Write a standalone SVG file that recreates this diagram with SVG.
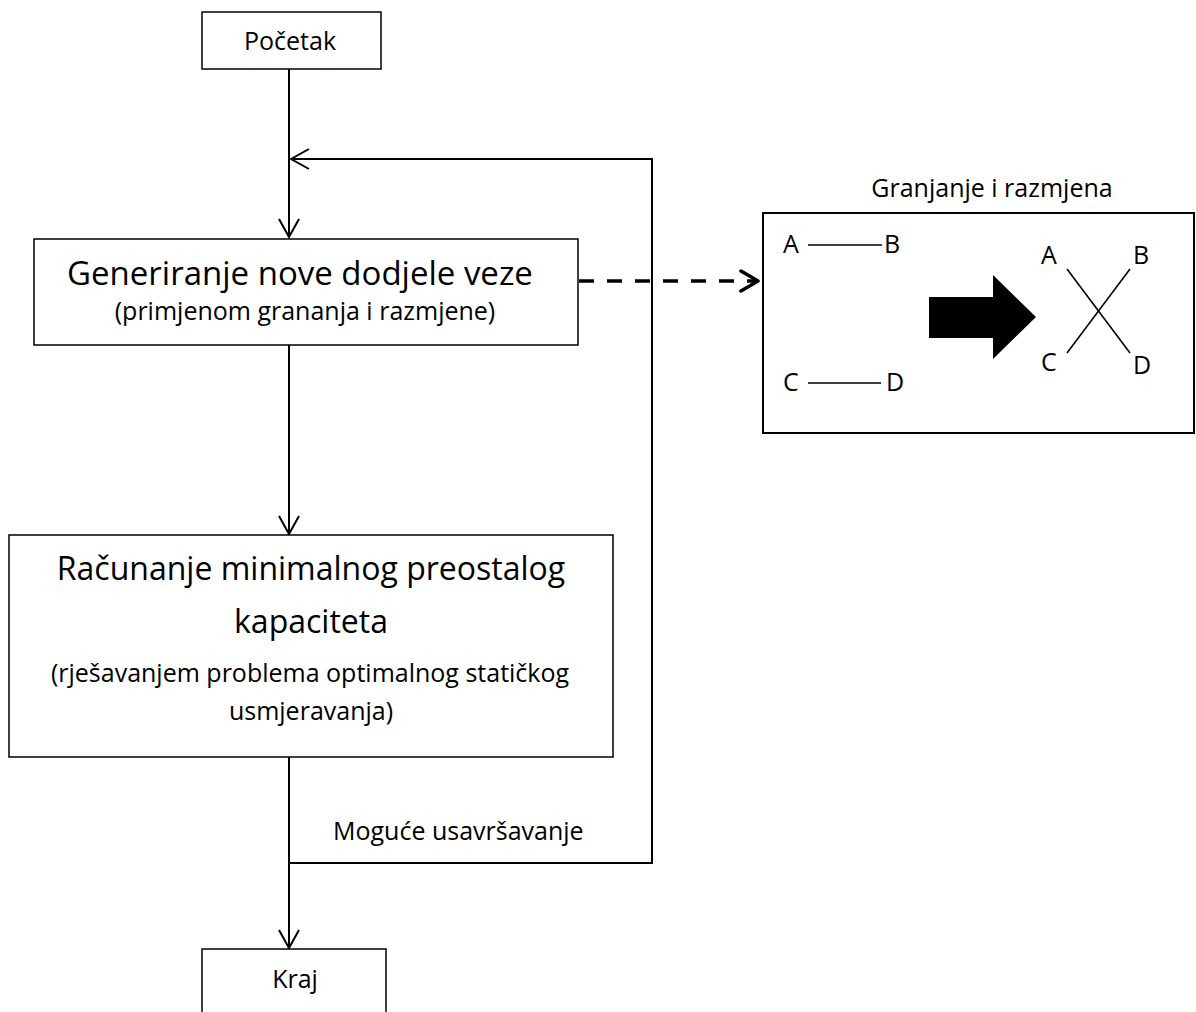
<svg xmlns="http://www.w3.org/2000/svg" width="1196" height="1012" viewBox="0 0 1196 1012">
<style>
  .box { fill: #fff; stroke: #000; stroke-width: 1.5; }
  .t { font-family: "Open Sans", "Noto Sans", "DejaVu Sans", sans-serif; fill: #000; }
  .s25 { font-size: 25px; }
  .s32 { font-size: 32px; }
  .s33 { font-size: 33px; }
  .mid { text-anchor: middle; }
  .conn { fill: none; stroke: #000; stroke-width: 2; }
  .thin { fill: none; stroke: #000; stroke-width: 1.5; }
</style>
<defs>
  <marker id="arr" viewBox="-20 -12 22 24" refX="0" refY="0" markerWidth="22" markerHeight="24" markerUnits="userSpaceOnUse" orient="auto">
    <path d="M-18,-10 L0,0 L-18,10" fill="none" stroke="#000" stroke-width="2"/>
  </marker>
  <marker id="arrThick" viewBox="-22 -14 24 28" refX="0" refY="0" markerWidth="24" markerHeight="28" markerUnits="userSpaceOnUse" orient="auto">
    <path d="M-17,-10 L0,0 L-17,10" fill="none" stroke="#000" stroke-width="3.5" stroke-linecap="round" stroke-linejoin="round"/>
  </marker>
</defs>

<g id="connectors">
  <path class="conn" d="M289,69 V237" marker-end="url(#arr)"/>
  <path class="conn" d="M289,345 V534" marker-end="url(#arr)"/>
  <path class="conn" d="M289,757 V948" marker-end="url(#arr)"/>
  <path class="conn" d="M289,863 H652 V159 H291" marker-end="url(#arr)"/>
  <path d="M579,281 H758" fill="none" stroke="#000" stroke-width="3.5" stroke-dasharray="15 13" marker-end="url(#arrThick)"/>
  <text class="t s25" x="333" y="840">Moguće usavršavanje</text>
</g>

<g id="node-pocetak">
  <rect class="box" x="202" y="12" width="179" height="57"/>
  <text class="t s25 mid" x="290" y="50">Početak</text>
</g>

<g id="node-generiranje">
  <rect class="box" x="34" y="239" width="544" height="106"/>
  <text class="t s33 mid" x="300" y="285">Generiranje nove dodjele veze</text>
  <text class="t s25 mid" x="305" y="320">(primjenom grananja i razmjene)</text>
</g>

<g id="node-racunanje">
  <rect class="box" x="9" y="535" width="604" height="222"/>
  <text class="t s32 mid" x="311" y="580">Računanje minimalnog preostalog</text>
  <text class="t s32 mid" x="311" y="633">kapaciteta</text>
  <text class="t s25 mid" x="310" y="682">(rješavanjem problema optimalnog statičkog</text>
  <text class="t s25 mid" x="311" y="720">usmjeravanja)</text>
</g>

<g id="node-kraj">
  <rect class="box" x="202" y="949" width="184" height="80"/>
  <text class="t s25 mid" x="295" y="988">Kraj</text>
</g>

<g id="node-granjanje">
  <text class="t s25 mid" x="992" y="197">Granjanje i razmjena</text>
  <rect x="763" y="213" width="431" height="220" fill="#fff" stroke="#000" stroke-width="2"/>
  <text class="t s25" x="783" y="253">A</text>
  <line class="thin" x1="808" y1="245" x2="882" y2="245"/>
  <text class="t s25" x="884" y="253">B</text>
  <text class="t s25" x="783" y="391">C</text>
  <line class="thin" x1="808" y1="383" x2="881" y2="383"/>
  <text class="t s25" x="886" y="391">D</text>
  <polygon points="929,297 993,297 993,275 1036,317 993,359 993,338 929,338" fill="#000"/>
  <line class="thin" x1="1067" y1="269" x2="1130" y2="353"/>
  <line class="thin" x1="1130" y1="269" x2="1067" y2="353"/>
  <text class="t s25" x="1041" y="264">A</text>
  <text class="t s25" x="1133" y="264">B</text>
  <text class="t s25" x="1041" y="371">C</text>
  <text class="t s25" x="1133" y="374">D</text>
</g>
</svg>
